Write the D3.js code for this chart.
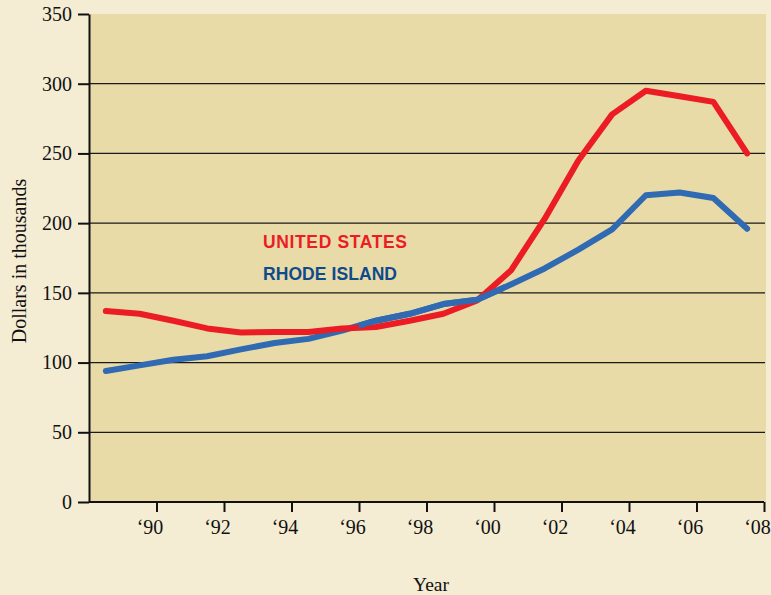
<!DOCTYPE html>
<html><head><meta charset="utf-8">
<script src="https://cdn.jsdelivr.net/npm/d3@7"></script>
<style>
html,body{margin:0;padding:0;background:#f4ecd3;}
svg{display:block;}
</style></head>
<body>
<svg id="chart" width="771" height="595"></svg>
<script>
const years = [1988.5,1989.5,1990.5,1991.5,1992.5,1993.5,1994.5,1995.5,1996.5,1997.5,1998.5,1999.5,2000.5,2001.5,2002.5,2003.5,2004.5,2005.5,2006.5,2007.5];
const unitedStates = [137,135,130,124.5,121.5,122,122,124.5,125.5,130,135,144.5,166,203,245,278,295,291,287,250];
const rhodeIsland = [94,98,102,104.5,109.5,114,117,123,130,135,142,145,156,167.5,181,195.5,220,222,218,196];
const xTicks = [1990,1992,1994,1996,1998,2000,2002,2004,2006,2008];
const xTickLabels = ["\u201890","\u201892","\u201894","\u201896","\u201898","\u201800","\u201802","\u201804","\u201806","\u201808"];
const yTicks = [0,50,100,150,200,250,300,350];
const seriesNames = ["UNITED STATES","RHODE ISLAND"];

(function(){
const svg = d3.select("#chart");
const mL = 89, mR = 765, mT = 14, mB = 502;
const x = d3.scaleLinear().domain([1988,2008]).range([mL, 764]);
const y = d3.scaleLinear().domain([0,350]).range([mB, mT]);
const serif = "'Liberation Serif','Times New Roman',serif";

svg.append("rect").attr("x",0).attr("y",0).attr("width",771).attr("height",595).attr("fill","#f4ecd3");
svg.append("rect").attr("x",mL).attr("y",mT).attr("width",766-mL).attr("height",mB-mT).attr("fill","#e8dba8");

svg.append("clipPath").attr("id","clipMid").append("rect").attr("x",x(1996)).attr("y",0).attr("width",x(2000.3)-x(1996)).attr("height",595);

// gridlines
svg.append("g").selectAll("line").data(yTicks.filter(d=>d>0 && d<350)).join("line")
  .attr("x1",mL).attr("x2",mR).attr("y1",d=>y(d)).attr("y2",d=>y(d))
  .attr("stroke","#1a1a1a").attr("stroke-width",1.2);

// y axis
const yAxis = svg.append("g").attr("transform",`translate(${mL},0)`)
  .call(d3.axisLeft(y).tickValues(yTicks).tickSize(11).tickPadding(6).tickSizeOuter(0));
yAxis.select(".domain").attr("stroke","#111").attr("stroke-width",2);
yAxis.selectAll(".tick line").attr("stroke","#111").attr("stroke-width",2);
yAxis.selectAll("text").attr("font-family",serif).attr("font-size",20).attr("fill","#111");

// x axis
const xAxis = svg.append("g").attr("transform",`translate(0,${mB})`)
  .call(d3.axisBottom(x).tickValues(xTicks).tickFormat((d,i)=>xTickLabels[i]).tickSize(10).tickPadding(8).tickSizeOuter(0));
xAxis.select(".domain").attr("stroke","#111").attr("stroke-width",2).attr("d",`M${mL},0H${x(2008)}`);
xAxis.selectAll(".tick line").attr("stroke","#111").attr("stroke-width",2);
xAxis.selectAll("text").attr("font-family",serif).attr("font-size",20).attr("fill","#111").attr("dx",-7);

// titles
svg.append("text").attr("x",431).attr("y",591).attr("text-anchor","middle")
  .attr("font-family",serif).attr("font-size",19.5).attr("fill","#111").text("Year");
svg.append("text").attr("transform","translate(26,261) rotate(-90)").attr("text-anchor","middle")
  .attr("font-family",serif).attr("font-size",20).attr("fill","#111").text("Dollars in thousands");

// lines
const line = d3.line().x((d,i)=>x(years[i])).y(d=>y(d));
const draw = (data,color) => svg.append("path").datum(data).attr("d",line).attr("fill","none")
  .attr("stroke",color).attr("stroke-width",6).attr("stroke-linejoin","round").attr("stroke-linecap","round");
draw(rhodeIsland,"#2f6ab3");
draw(unitedStates,"#ec1c24");
draw(rhodeIsland,"#2f6ab3").attr("clip-path","url(#clipMid)");

// labels
const sans = "'Liberation Sans Narrow','Arial Narrow',sans-serif";
svg.append("text").attr("x",263).attr("y",247.5).attr("font-family",sans)
  .attr("font-weight","bold").attr("font-size",17.5).attr("fill","#ec1c24")
  .attr("textLength",144).attr("lengthAdjust","spacing").text(seriesNames[0]);
svg.append("text").attr("x",263).attr("y",280).attr("font-family",sans)
  .attr("font-weight","bold").attr("font-size",17.5).attr("fill","#0f4a8c")
  .attr("textLength",134).attr("lengthAdjust","spacing").text(seriesNames[1]);
})();
</script>
</body></html>
